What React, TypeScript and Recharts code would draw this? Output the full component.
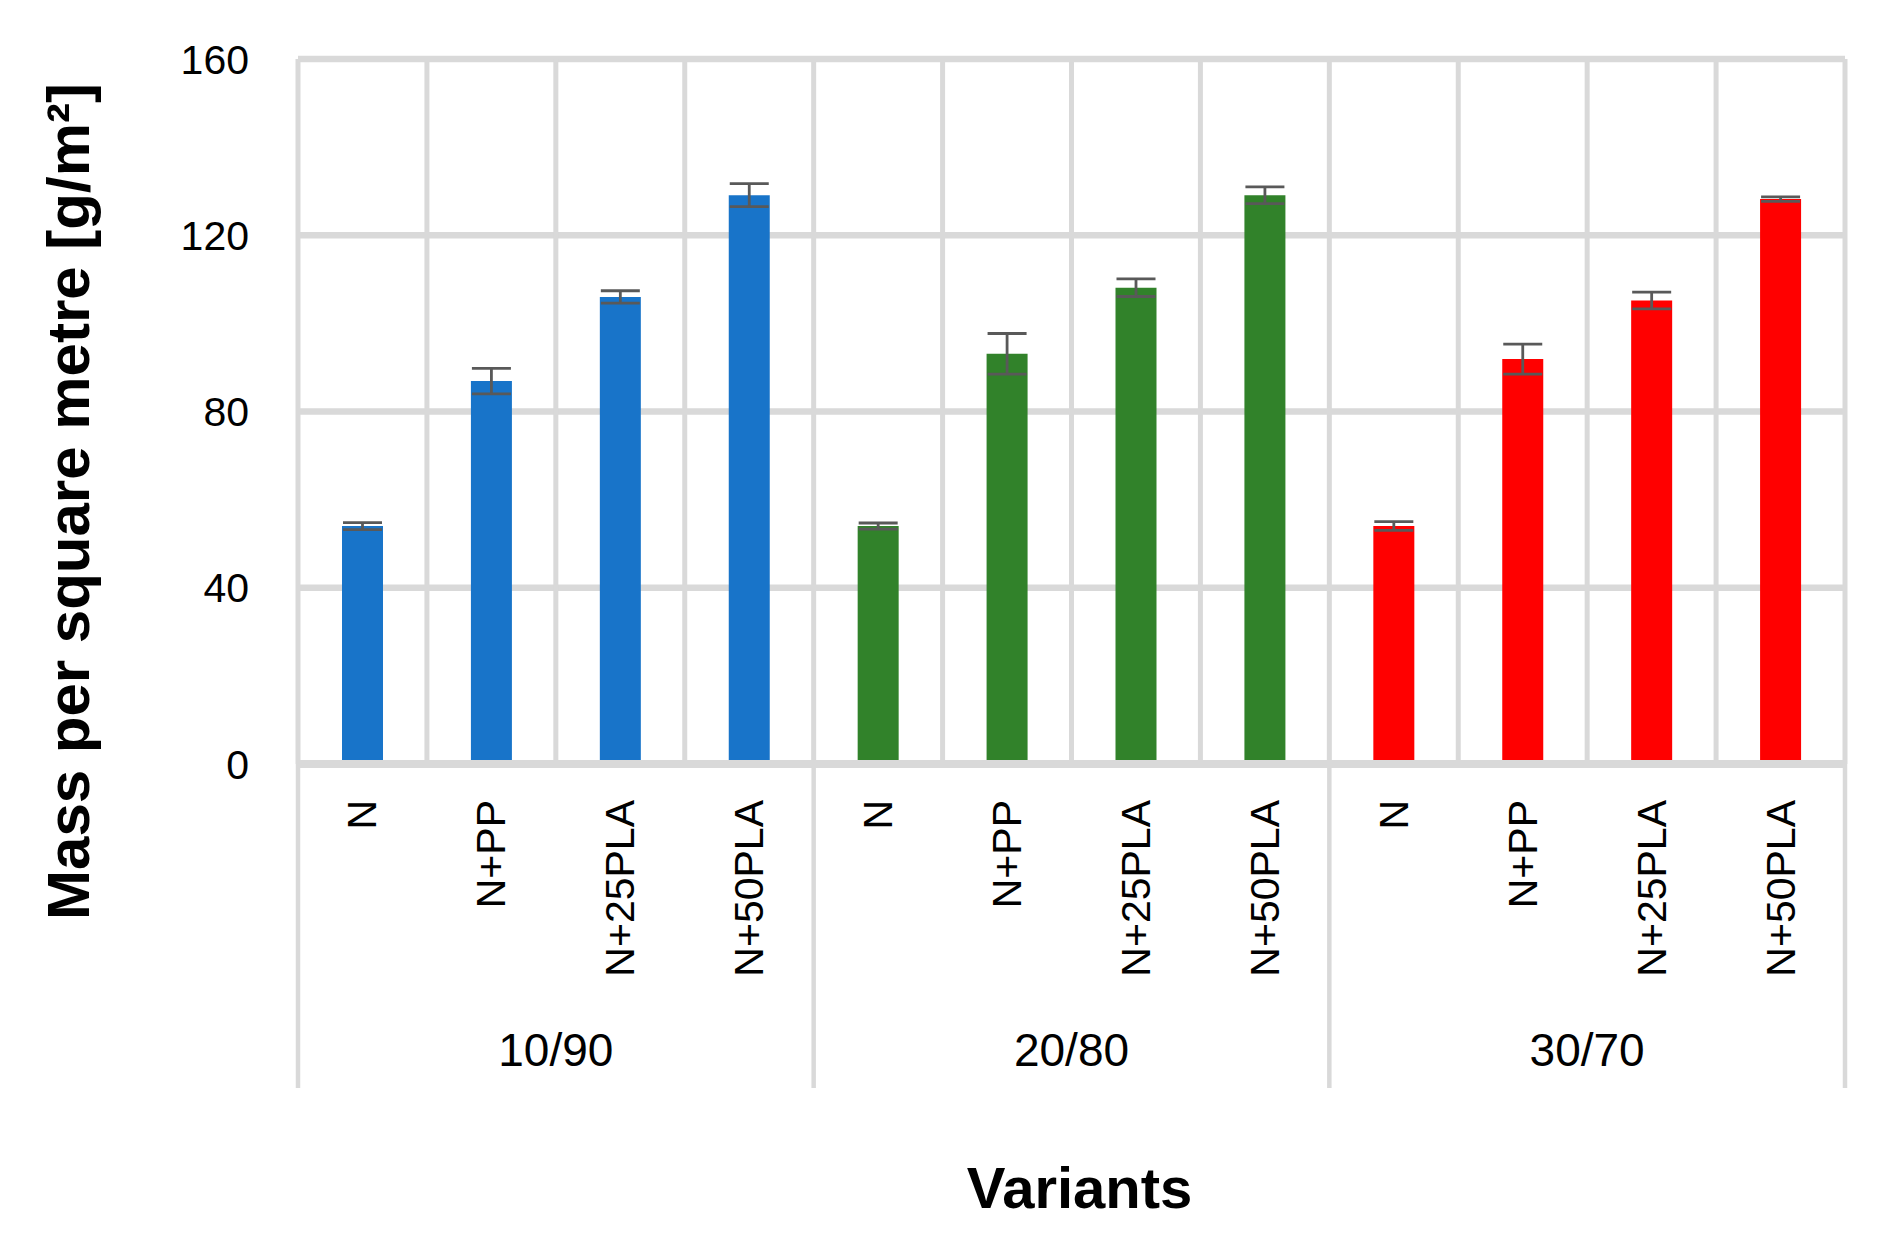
import React from "react";
import { BarChart, Bar, XAxis, YAxis, CartesianGrid, ErrorBar, Cell } from "recharts";

// categories
const variants = ["N", "N+PP", "N+25PLA", "N+50PLA"];
const groups = ["10/90", "20/80", "30/70"];
const groupColors = ["#1874C9", "#31822A", "#FF0000"];

// mass per square metre [g/m2]
const values1090 = [54.0, 86.9, 106.0, 129.1];
const errors1090 = [0.8, 2.9, 1.4, 2.6];
const values2080 = [54.0, 93.1, 108.1, 129.1];
const errors2080 = [0.7, 4.6, 2.0, 1.9];
const values3070 = [54.0, 91.9, 105.2, 128.2];
const errors3070 = [1.0, 3.4, 1.9, 0.5];

const yTicks = [0, 40, 80, 120, 160];

const groupValues = [values1090, values2080, values3070];
const groupErrors = [errors1090, errors2080, errors3070];

const rows = groups.flatMap((g, gi) =>
    variants.map((v, vi) => ({
        key: `${g}-${v}`,
        variant: v,
        group: g,
        groupIndex: gi,
        value: groupValues[gi][vi],
        err: groupErrors[gi][vi],
    }))
);

const GRID = "#d9d9d9";
const FONT = "'Liberation Sans', Arial, sans-serif";

const CategoryTick = (props: any) => {
    const { x, y, payload, index, width } = props;
    const band = payload?.offset ? payload.offset * 2 : width / rows.length;
    const row = rows[index];
    const perGroup = variants.length;
    return (
        <g>
            <text
                x={x}
                y={y + 36}
                transform={`rotate(-90, ${x}, ${y + 36})`}
                textAnchor="end"
                dominantBaseline="central"
                fontFamily={FONT}
                fontSize={41}
                fill="#000"
            >
                {row.variant}
            </text>
            {index % perGroup === 0 && (
                <line x1={x - band / 2} x2={x - band / 2} y1={y} y2={y + 324} stroke={GRID} strokeWidth={4.5} />
            )}
            {index === rows.length - 1 && (
                <line x1={x + band / 2} x2={x + band / 2} y1={y} y2={y + 324} stroke={GRID} strokeWidth={4.5} />
            )}
            {index % perGroup === 1 && (
                <text
                    x={x + band / 2}
                    y={y + 286}
                    textAnchor="middle"
                    dominantBaseline="central"
                    fontFamily={FONT}
                    fontSize={46}
                    fill="#000"
                >
                    {row.group}
                </text>
            )}
        </g>
    );
};

export default function App() {
    const n = rows.length;
    return (
        <div style={{ position: "absolute", left: 0, top: 0, width: 1885, height: 1241, background: "#fff" }}>
            <BarChart
                width={1885}
                height={1241}
                data={rows}
                margin={{ top: 59, right: 40, left: 0, bottom: 0 }}
            >
                <CartesianGrid vertical={false} stroke={GRID} strokeWidth={6.5} />
                <CartesianGrid
                    horizontal={false}
                    stroke={GRID}
                    strokeWidth={5}
                    verticalCoordinatesGenerator={({ offset }: any) =>
                        Array.from({ length: n + 1 }, (_, i) => offset.left + (i * offset.width) / n)
                    }
                />
                <XAxis
                    dataKey="key"
                    interval={0}
                    height={477}
                    tickSize={0}
                    tickMargin={0}
                    tickLine={false}
                    axisLine={{ stroke: GRID, strokeWidth: 8 }}
                    tick={<CategoryTick />}
                    label={{
                        content: ({ viewBox }: any) => (
                            <text
                                x={viewBox.x + viewBox.width / 2 + 8}
                                y={viewBox.y + 444}
                                textAnchor="middle"
                                fontFamily={FONT}
                                fontWeight="bold"
                                fontSize={58}
                                fill="#000"
                            >
                                Variants
                            </text>
                        ),
                    }}
                />
                <YAxis
                    width={298}
                    domain={[0, 160]}
                    ticks={yTicks}
                    interval={0}
                    axisLine={false}
                    tickLine={false}
                    tickSize={0}
                    tickMargin={49}
                    tick={{ fontSize: 41, fill: "#000", fontFamily: FONT }}
                    label={{
                        content: ({ viewBox }: any) => {
                            const cx = viewBox.x + 68;
                            const cy = viewBox.y + viewBox.height / 2 + 90;
                            return (
                                <text
                                    x={cx}
                                    y={cy}
                                    transform={`rotate(-90, ${cx}, ${cy})`}
                                    textAnchor="middle"
                                    dominantBaseline="central"
                                    fontFamily={FONT}
                                    fontWeight="bold"
                                    fontSize={60}
                                    fill="#000"
                                >
                                    Mass per square metre [g/m²]
                                </text>
                            );
                        },
                    }}
                />
                <Bar dataKey="value" barSize={41} isAnimationActive={false}>
                    {rows.map((r) => (
                        <Cell key={r.key} fill={groupColors[r.groupIndex]} />
                    ))}
                    <ErrorBar dataKey="err" direction="y" width={19.5} strokeWidth={2.8} stroke="#595959" />
                </Bar>
            </BarChart>
        </div>
    );
}
